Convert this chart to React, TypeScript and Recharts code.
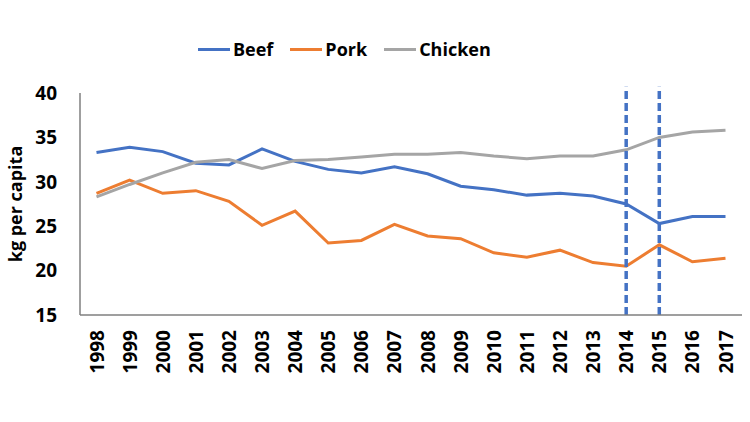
import { LineChart, Line, XAxis, YAxis, Legend, ReferenceLine } from "recharts"

const years = [
  "1998", "1999", "2000", "2001", "2002", "2003", "2004", "2005", "2006", "2007",
  "2008", "2009", "2010", "2011", "2012", "2013", "2014", "2015", "2016", "2017",
]
const beef = [33.3, 33.9, 33.4, 32.1, 31.9, 33.7, 32.3, 31.4, 31.0, 31.7, 30.9, 29.5, 29.1, 28.5, 28.7, 28.4, 27.5, 25.3, 26.1, 26.1]
const pork = [28.7, 30.2, 28.7, 29.0, 27.8, 25.1, 26.7, 23.1, 23.4, 25.2, 23.9, 23.6, 22.0, 21.5, 22.3, 20.9, 20.5, 22.9, 21.0, 21.4]
const chicken = [28.3, 29.7, 31.0, 32.2, 32.5, 31.5, 32.4, 32.5, 32.8, 33.1, 33.1, 33.3, 32.9, 32.6, 32.9, 32.9, 33.6, 35.0, 35.6, 35.8]
const yTicks = [15, 20, 25, 30, 35, 40]
const markedYears = ["2014", "2015"]
const seriesOrder = ["Beef", "Pork", "Chicken"]

const data = years.map((year, i) => ({ year, beef: beef[i], pork: pork[i], chicken: chicken[i] }))

const FONT = "'Open Sans', sans-serif"
const AXIS_GRAY = "#7f7f7f"

function YearTick({ x, y, payload }: any) {
  return (
    <text
      transform={`rotate(-90, ${x}, ${y})`}
      x={x}
      y={y}
      textAnchor="end"
      dominantBaseline="central"
      fontFamily={FONT}
      fontWeight={700}
      fontSize={19}
      fill="#000"
    >
      {payload.value}
    </text>
  )
}

function LegendContent({ payload }: any) {
  const items = [...(payload || [])].sort(
    (a: any, b: any) => seriesOrder.indexOf(a.value) - seriesOrder.indexOf(b.value)
  )
  return (
    <div
      style={{
        boxSizing: "border-box",
        height: 58,
        display: "flex",
        alignItems: "flex-start",
        paddingLeft: 198,
        paddingTop: 2,
      }}
    >
      {items.map((entry: any) => (
        <div key={entry.value} style={{ display: "flex", alignItems: "center", marginRight: 17 }}>
          <span style={{ display: "inline-block", width: 32, height: 3, background: entry.color, marginRight: 3 }} />
          <span style={{ fontFamily: FONT, fontWeight: 700, fontSize: 18, color: "#000" }}>{entry.value}</span>
        </div>
      ))}
    </div>
  )
}

function YLabel({ viewBox }: any) {
  const cy = viewBox.y + viewBox.height / 2
  const cx = 15
  return (
    <text
      transform={`rotate(-90, ${cx}, ${cy})`}
      x={cx}
      y={cy}
      textAnchor="middle"
      dominantBaseline="central"
      fontFamily={FONT}
      fontWeight={700}
      fontSize={18}
      fill="#000"
    >
      kg per capita
    </text>
  )
}

export default function App() {
  return (
    <div style={{ position: "absolute", left: 0, top: 0, width: 750, height: 422, background: "#fff" }}>
      <LineChart width={750} height={422} data={data} margin={{ top: 35, right: 8, bottom: 0, left: 0 }}>
        <Legend
          verticalAlign="top"
          align="left"
          content={<LegendContent />}
          wrapperStyle={{ left: 0, width: 750 }}
        />
        <XAxis
          dataKey="year"
          height={107}
          padding={{ left: 16.5, right: 16.5 }}
          tickLine={false}
          tickSize={0}
          tickMargin={15}
          interval={0}
          tick={<YearTick />}
          axisLine={{ stroke: AXIS_GRAY, strokeWidth: 1.5 }}
        />
        <YAxis
          width={80}
          domain={[15, 40]}
          ticks={yTicks}
          tickLine={false}
          tickSize={0}
          tickMargin={23}
          axisLine={{ stroke: AXIS_GRAY, strokeWidth: 1.5 }}
          tick={{ fontFamily: FONT, fontWeight: 700, fontSize: 19, fill: "#000" }}
          label={{ content: <YLabel /> }}
        />
        <Line dataKey="beef" name="Beef" stroke="#4472C4" strokeWidth={3} dot={false} isAnimationActive={false} />
        <Line dataKey="pork" name="Pork" stroke="#ED7D31" strokeWidth={3} dot={false} isAnimationActive={false} />
        <Line dataKey="chicken" name="Chicken" stroke="#A5A5A5" strokeWidth={3} dot={false} isAnimationActive={false} />
        {markedYears.map((yr) => (
          <ReferenceLine
            key={yr}
            segment={[{ x: yr, y: 15 }, { x: yr, y: 40.7 }]}
            ifOverflow="visible"
            stroke="#4472C4"
            strokeWidth={3.5}
            strokeDasharray="8 4"
          />
        ))}
      </LineChart>
    </div>
  )
}
